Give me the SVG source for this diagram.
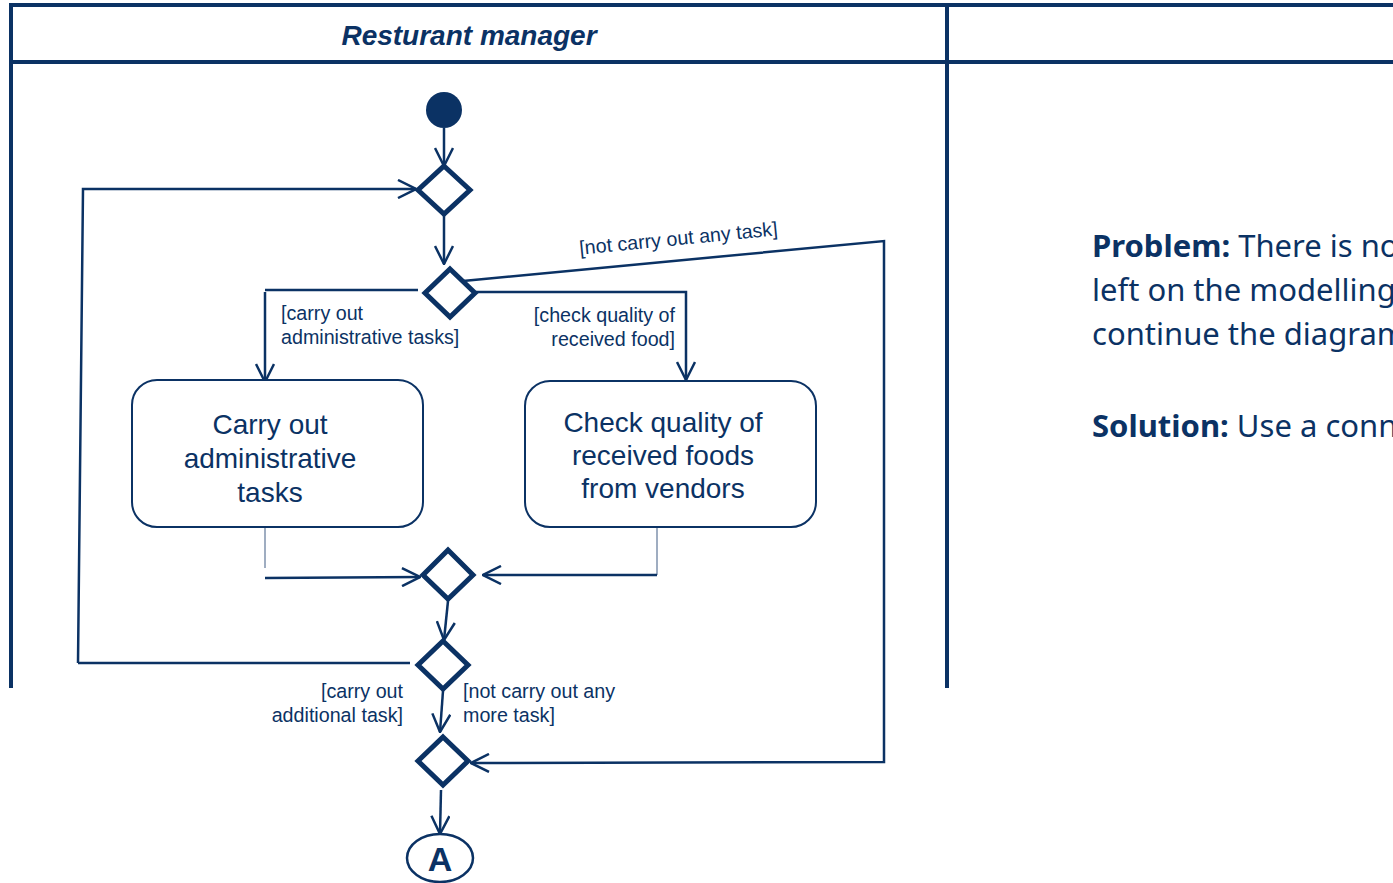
<svg xmlns="http://www.w3.org/2000/svg" width="1393" height="883" viewBox="0 0 1393 883">
<style>
.ln{stroke:#0b3264;stroke-width:2.5;fill:none}
.lane{stroke:#0b3264;stroke-width:4;fill:none}
.dia{stroke:#0b3264;stroke-width:5;fill:#fff;stroke-linejoin:miter}
.box{stroke:#0b3264;stroke-width:2;fill:#fff}
.t{font-family:"Liberation Sans",Arial,sans-serif;fill:#0b3264}
.g{font-size:19.7px}
.n{font-size:28px;text-anchor:middle}
.p{font-family:"Noto Sans","Open Sans",sans-serif;font-size:31px;fill:#0b3264}
</style>
<defs>
<marker id="ah" viewBox="0 0 20 20" refX="19" refY="10" markerWidth="20" markerHeight="20" markerUnits="userSpaceOnUse" orient="auto">
<path d="M1,1 L19,10 L1,19" fill="none" stroke="#0b3264" stroke-width="2.5"/>
</marker>
</defs>
<rect width="1393" height="883" fill="#fff"/>
<g id="swimlane">
<line class="lane" x1="9" y1="5" x2="1393" y2="5"/>
<line class="lane" x1="11" y1="3" x2="11" y2="688"/>
<line class="lane" x1="11" y1="62" x2="1393" y2="62"/>
<line class="lane" x1="947" y1="3" x2="947" y2="688"/>
<text class="t" x="469" y="45" font-size="28" font-weight="bold" font-style="italic" text-anchor="middle">Resturant manager</text>
</g>
<g id="connectors">
<line class="ln" x1="444" y1="128" x2="444" y2="166" marker-end="url(#ah)"/>
<polyline class="ln" points="78,663 83,189 416,189" marker-end="url(#ah)"/>
<line class="ln" x1="78" y1="663" x2="410" y2="663"/>
<line class="ln" x1="444" y1="215" x2="444" y2="264" marker-end="url(#ah)"/>
<polyline class="ln" points="418,290 265,290"/>
<line class="ln" x1="265" y1="292" x2="265" y2="382" marker-end="url(#ah)"/>
<polyline class="ln" points="476,292 686,292 686,380" marker-end="url(#ah)"/>
<polyline class="ln" points="463,281 884,241 884,762 471,763" marker-end="url(#ah)"/>
<line x1="265" y1="528" x2="265" y2="568" stroke="#7f92ad" stroke-width="1.5"/>
<line class="ln" x1="265" y1="578" x2="420" y2="577" marker-end="url(#ah)"/>
<line x1="657" y1="528" x2="657" y2="575" stroke="#7f92ad" stroke-width="1.5"/>
<line class="ln" x1="657" y1="575" x2="483" y2="575" marker-end="url(#ah)"/>
<line class="ln" x1="448" y1="601" x2="444" y2="640" marker-end="url(#ah)"/>
<line class="ln" x1="443" y1="691" x2="440" y2="732" marker-end="url(#ah)"/>
<line class="ln" x1="441" y1="790" x2="440" y2="834" marker-end="url(#ah)"/>
<text class="t g" transform="translate(679,245) rotate(-5.6)" text-anchor="middle">[not carry out any task]</text>
<text class="t g" x="281" y="320">[carry out</text>
<text class="t g" x="281" y="344">administrative tasks]</text>
<text class="t g" x="675" y="322" text-anchor="end">[check quality of</text>
<text class="t g" x="675" y="346" text-anchor="end">received food]</text>
<text class="t g" x="403" y="698" text-anchor="end">[carry out</text>
<text class="t g" x="403" y="722" text-anchor="end">additional task]</text>
<text class="t g" x="463" y="698">[not carry out any</text>
<text class="t g" x="463" y="722">more task]</text>
</g>
<g id="start"><circle cx="444" cy="110" r="18" fill="#0b3264"/></g>
<g id="merge1"><polygon class="dia" points="444,166 470,190 444,214 418,190"/></g>
<g id="decision1"><polygon class="dia" points="450,269 475,293 450,317 425,293"/></g>
<g id="admin"><rect class="box" x="132" y="380" width="291" height="147" rx="25"/>
<text class="t n" x="270" y="434">Carry out</text>
<text class="t n" x="270" y="468">administrative</text>
<text class="t n" x="270" y="502">tasks</text></g>
<g id="check"><rect class="box" x="525" y="381" width="291" height="146" rx="25"/>
<text class="t n" x="663" y="432">Check quality of</text>
<text class="t n" x="663" y="465">received foods</text>
<text class="t n" x="663" y="498">from vendors</text></g>
<g id="merge2"><polygon class="dia" points="448,550 473,575 448,599 423,575"/></g>
<g id="decision2"><polygon class="dia" points="443,641 468,665 443,689 418,665"/></g>
<g id="merge3"><polygon class="dia" points="443,737 468,761 443,785 418,761"/></g>
<g id="connectorA"><ellipse cx="440" cy="858" rx="33" ry="24" fill="#fff" stroke="#0b3264" stroke-width="2.5"/>
<text class="t" x="440" y="871" font-size="34" font-weight="bold" text-anchor="middle">A</text></g>
<g id="note">
<text class="p" x="1092" y="257"><tspan font-weight="bold">Problem:</tspan> There is no</text>
<text class="p" x="1092" y="301">left on the modelling</text>
<text class="p" x="1092" y="345">continue the diagram</text>
<text class="p" x="1092" y="437"><tspan font-weight="bold">Solution:</tspan> Use a conn</text>
</g>
</svg>
